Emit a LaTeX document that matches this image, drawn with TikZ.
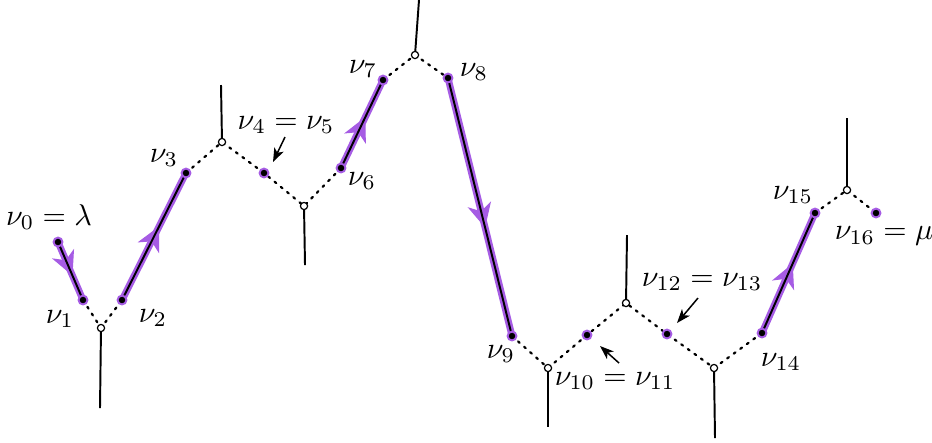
\documentclass[tikz,border=0pt]{standalone}
\usetikzlibrary{decorations.markings,arrows.meta}
\definecolor{pviolet}{RGB}{166,92,228}
\begin{document}
\begin{tikzpicture}[x=0.3333pt,y=-0.3333pt,
  vtx/.style={circle,draw=black,fill=white,line width=0.4pt,inner sep=0pt,minimum size=2.4pt},
  pdot/.style={circle,fill=black,draw=pviolet,line width=0.65pt,inner sep=0pt,minimum size=2.95pt},
  dotline/.style={line width=0.75pt,dash pattern=on 0.7pt off 2pt,line cap=round},
  leg/.style={line width=0.65pt},
  halo/.style={draw=pviolet,line width=2.3pt,
    postaction={decorate,decoration={markings,mark=at position 0.58 with {\arrow[pviolet,line width=0.4pt]{Stealth[length=8pt,width=8pt,inset=2.4pt]}}}}},
  core/.style={draw=black,line width=0.65pt},
  pointer/.style={-{Stealth[length=4.6pt,width=3.4pt,inset=1.2pt]},line width=0.5pt},
  lab/.style={inner sep=0pt}
]
\useasboundingbox (0,0) rectangle (932,442);

% vertices (trivalent)
\coordinate (V1) at (101,328);  \coordinate (V1e) at (100,408);
\coordinate (V2) at (222,142);  \coordinate (V2e) at (221,85);
\coordinate (V3) at (304,206);  \coordinate (V3e) at (305,265);
\coordinate (V4) at (415,55);   \coordinate (V4e) at (419,0);
\coordinate (V5) at (548,368);  \coordinate (V5e) at (548,427);
\coordinate (V6) at (626,303);  \coordinate (V6e) at (627,235);
\coordinate (V7) at (714,368);  \coordinate (V7e) at (715,438);
\coordinate (V8) at (847,190);  \coordinate (V8e) at (847,118);

% points nu
\coordinate (n0) at (58,242);
\coordinate (n1) at (83,300);
\coordinate (n2) at (122,300);
\coordinate (n3) at (186,173);
\coordinate (n4) at (264,173);
\coordinate (n6) at (341,168);
\coordinate (n7) at (383,80);
\coordinate (n8) at (448,78);
\coordinate (n9) at (512,336);
\coordinate (n10) at (587,335);
\coordinate (n12) at (667,334);
\coordinate (n14) at (762,333);
\coordinate (n15) at (815,213);
\coordinate (n16) at (876,213);

% legs
\foreach \v in {V1,V2,V3,V4,V5,V6,V7,V8}
  \draw[leg] (\v) -- (\v e);

% dotted edges
\draw[dotline] (n1) -- (V1) -- (n2);
\draw[dotline] (n3) -- (V2) -- (n4) -- (V3) -- (n6);
\draw[dotline] (n7) -- (V4) -- (n8);
\draw[dotline] (n9) -- (V5) -- (n10) -- (V6) -- (n12) -- (V7) -- (n14);
\draw[dotline] (n15) -- (V8) -- (n16);

% highlighted paths
\foreach \a/\b in {n0/n1,n2/n3,n6/n7,n8/n9,n14/n15}
  \path[halo] (\a) -- (\b);
\foreach \a/\b in {n0/n1,n2/n3,n6/n7,n8/n9,n14/n15}
  \path[core] (\a) -- (\b);

% vertex circles
\foreach \v in {V1,V2,V3,V4,V5,V6,V7,V8}
  \node[vtx] (c\v) at (\v) {};

% dots
\foreach \n in {n0,n1,n2,n3,n4,n6,n7,n8,n9,n10,n12,n14,n15,n16}
  \node[pdot] (d\n) at (\n) {};

% labels
\node[lab] (l0) at (49,217) {$\nu_0=\lambda$};
\node[lab] (l1) at (60,319) {$\nu_1$};
\node[lab] (l2) at (153,318) {$\nu_2$};
\node[lab] (l3) at (164,158) {$\nu_3$};
\node[lab] (l4) at (286,125) {$\nu_4=\nu_5$};
\node[lab] (l6) at (362,181) {$\nu_6$};
\node[lab] (l7) at (363,69) {$\nu_7$};
\node[lab] (l8) at (474,72) {$\nu_8$};
\node[lab] (l9) at (501,354) {$\nu_9$};
\node[lab] (l10) at (615,381) {$\nu_{10}=\nu_{11}$};
\node[lab] (l12) at (702,282) {$\nu_{12}=\nu_{13}$};
\node[lab] (l14) at (781,362) {$\nu_{14}$};
\node[lab] (l15) at (793,195) {$\nu_{15}$};
\node[lab] (l16) at (884,236) {$\nu_{16}=\mu$};

% pointer arrows
\coordinate (p4s) at (285,137); \coordinate (p4e) at (273,162);
\coordinate (p10s) at (619,363); \coordinate (p10e) at (600,346);
\coordinate (p12s) at (698,298); \coordinate (p12e) at (677,323);
\draw[pointer] (p4s) -- (p4e);
\draw[pointer] (p10s) -- (p10e);
\draw[pointer] (p12s) -- (p12e);
\end{tikzpicture}
\end{document}
